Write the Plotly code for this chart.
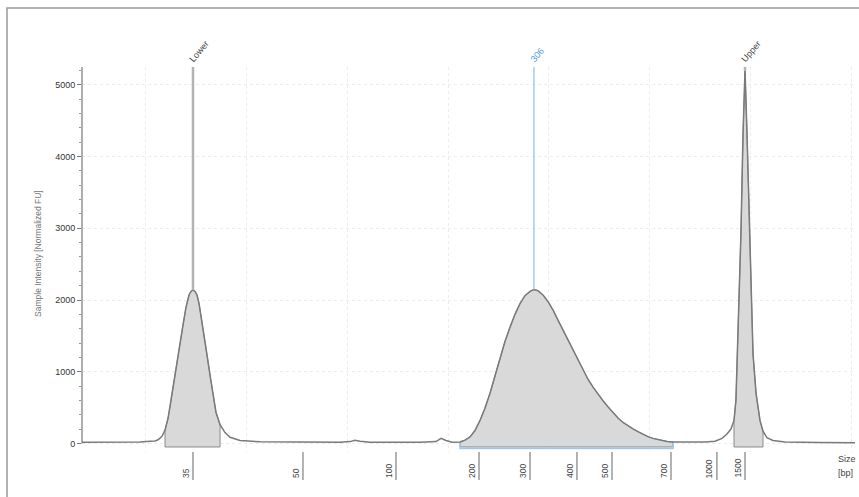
import numpy as np
import plotly.graph_objects as go

# Migration position (arbitrary units, grid every 10) and normalized intensity (FU)
position = [3.76, 7.52, 9.50, 10.50, 10.99, 11.29, 11.68, 11.98, 12.28, 12.57, 12.87, 13.17,
            13.47, 13.76, 14.06, 14.36, 14.55, 14.75, 14.95, 15.15, 15.35, 15.54, 15.84, 16.14,
            16.44, 16.73, 17.03, 17.43, 17.92, 18.42, 19.41, 21.39, 25.35, 29.31, 30.30, 30.79,
            31.29, 32.28, 37.23, 38.81, 39.31, 39.80, 40.40, 41.19, 41.68, 42.18, 42.67, 43.17,
            43.66, 44.16, 44.65, 45.15, 45.64, 46.14, 46.63, 47.13, 47.62, 48.12, 48.51, 48.91,
            49.41, 49.90, 50.40, 50.89, 51.39, 51.88, 52.38, 52.87, 53.37, 53.86, 54.36, 54.85,
            55.35, 55.84, 56.34, 56.83, 57.33, 57.82, 58.32, 58.81, 59.31, 59.80, 60.30, 60.99,
            61.68, 62.28, 63.96, 65.45, 66.44, 67.13, 67.62, 68.02, 68.32, 68.51, 68.66, 68.81,
            69.01, 69.21, 69.41, 69.60, 69.80, 70.00, 70.20, 70.50, 70.89, 71.19, 71.58, 72.18,
            73.37, 76.83, 80.30]
intensity = [15, 15, 20, 30, 35, 50, 100, 185, 350, 600, 880, 1160,
             1380, 1650, 1900, 2070, 2120, 2140, 2120, 2070, 1950, 1790, 1510, 1230,
             950, 670, 430, 260, 150, 85, 40, 22, 18, 15, 25, 45,
             30, 15, 15, 25, 70, 40, 15, 20, 45, 90, 180, 320,
             490, 700, 940, 1200, 1420, 1620, 1800, 1950, 2060, 2120, 2145, 2130,
             2070, 1980, 1860, 1720, 1580, 1440, 1300, 1160, 1025, 895, 785, 685,
             595, 510, 430, 355, 292, 245, 203, 163, 125, 95, 70, 45,
             28, 20, 15, 18, 30, 70, 130, 200, 320, 600, 1300, 2000,
             2950, 4300, 5200, 4350, 3300, 2350, 1250, 700, 320, 170, 80, 40,
             20, 12, 10]

# Integrated regions (start, end positions)
region_start = [11.98, 41.19, 68.32]
region_end = [17.43, 62.28, 71.19]

# Peak markers
marker_pos = [14.75, 48.51, 69.41]
marker_text = ["Lower", "306", "Upper"]
marker_color = ["#b3b3b3", "#8cc0ea", "#b3b3b3"]
marker_text_color = ["#444444", "#4a9be0", "#444444"]

# Size ladder ticks (bp)
size_tick_pos = [14.75, 25.64, 34.85, 43.07, 48.12, 52.77, 56.24, 62.08, 66.63, 69.41]
size_tick_text = ["35", "50", "100", "200", "300", "400", "500", "700", "1000", "1500"]

y_ticks = [0, 1000, 2000, 3000, 4000, 5000]

X_RANGE = [3.76, 80.30]
Y_RANGE = [-120, 5250]
FILL_BOTTOM = -50

pos = np.array(position)
inten = np.array(intensity)

fig = go.Figure()

# filled integration regions
for a, b in zip(region_start, region_end):
    m = (pos >= a) & (pos <= b)
    xs = list(pos[m]) + [b, a, a]
    ys = list(inten[m]) + [FILL_BOTTOM, FILL_BOTTOM, inten[m][0]]
    fig.add_trace(go.Scatter(x=xs, y=ys, mode="lines", fill="toself",
                             fillcolor="#d9d9d9", line=dict(color="#8a8a8a", width=1),
                             hoverinfo="skip"))

# main trace
fig.add_trace(go.Scatter(x=position, y=intensity, mode="lines",
                         line=dict(color="#7a7a7a", width=1.5), hoverinfo="skip"))

shapes = []
annotations = []

# marker lines + labels
for p, t, c, tc in zip(marker_pos, marker_text, marker_color, marker_text_color):
    peak = float(inten[np.argmin(np.abs(pos - p))])
    w = 1.2 if t not in ("Lower", "Upper") else 2.5
    shapes.append(dict(type="line", xref="x", yref="y", x0=p, x1=p, y0=peak, y1=Y_RANGE[1],
                       line=dict(color=c, width=w), layer="above"))
    annotations.append(dict(x=p, xref="x", y=1.0, yref="paper", text=t, showarrow=False,
                            textangle=-50, xanchor="left", yanchor="bottom", xshift=-8, yshift=0,
                            font=dict(size=9, color=tc)))

# blue bracket under smear region
shapes.append(dict(type="path", xref="x", yref="y",
                   path=f"M {region_start[1]} 0 L {region_start[1]} -70 L {region_end[1]} -70 L {region_end[1]} 0",
                   line=dict(color="#9ccaee", width=1.5)))

# size ladder ticks
for p, t in zip(size_tick_pos, size_tick_text):
    shapes.append(dict(type="line", xref="x", yref="paper", x0=p, x1=p, y0=0.0, y1=-0.0727,
                       line=dict(color="#666666", width=1)))
    annotations.append(dict(x=p, xref="x", y=-0.0727, yref="paper", text=t, showarrow=False,
                            textangle=-90, xanchor="center", yanchor="bottom", xshift=-7,
                            font=dict(size=8.5, color="#444444")))

annotations.append(dict(x=0.976, xref="paper", y=-0.0, yref="paper", text="Size", showarrow=False,
                        xanchor="left", yanchor="top", font=dict(size=9, color="#444444")))
annotations.append(dict(x=0.976, xref="paper", y=-0.036, yref="paper", text="[bp]", showarrow=False,
                        xanchor="left", yanchor="top", font=dict(size=9, color="#444444")))

# y axis title
annotations.append(dict(x=-0.066, xref="paper", y=0.517, yref="paper",
                        text="Sample Intensity [Normalized FU]", showarrow=False, textangle=-90,
                        font=dict(size=8.5, color="#777777")))

# y axis line
shapes.append(dict(type="line", xref="paper", yref="y", x0=0, x1=0, y0=0, y1=Y_RANGE[1],
                   line=dict(color="#777777", width=1.2)))

# outer frame
shapes.append(dict(type="rect", xref="paper", yref="paper", x0=-0.097, x1=1.03, y0=-0.17, y1=1.153,
                   line=dict(color="#9a9a9a", width=1.5)))

fig.update_layout(
    width=859, height=497, autosize=False,
    margin=dict(l=82, r=4, t=67, b=45, autoexpand=False),
    plot_bgcolor="white", paper_bgcolor="white",
    showlegend=False,
    font=dict(family="Liberation Sans, Arial, sans-serif"),
    shapes=shapes, annotations=annotations,
    xaxis=dict(range=X_RANGE, tick0=0, dtick=10, showgrid=True, gridcolor="#ececec",
               griddash="dot", showticklabels=False, ticks="", zeroline=False, showline=False),
    yaxis=dict(range=Y_RANGE, tickvals=y_ticks, showgrid=True, gridcolor="#ececec",
               griddash="dot", ticks="outside", ticklen=4, tickcolor="#777777",
               tickfont=dict(size=9, color="#333333"), zeroline=False, showline=False,
               minor=dict(dtick=200, tick0=0, ticks="outside", ticklen=2, tickcolor="#999999",
                          showgrid=False)),
)

fig.write_html("out.html", config={"displayModeBar": False},
               post_script="document.body.style.margin='0px';document.body.style.overflow='hidden';")
